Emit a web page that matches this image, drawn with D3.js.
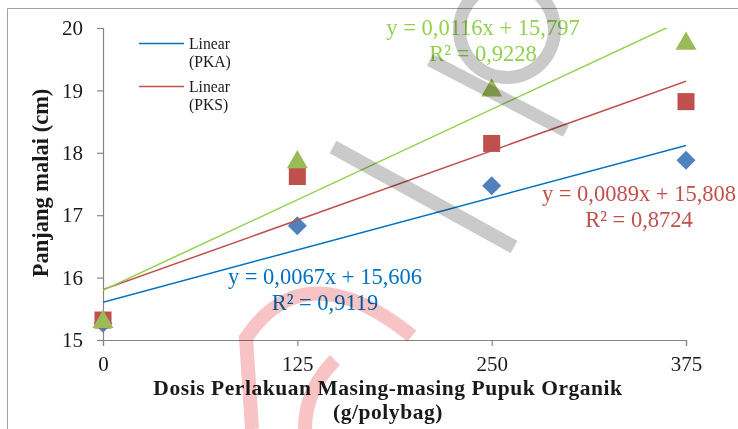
<!DOCTYPE html>
<html>
<head>
<meta charset="utf-8">
<script src="https://cdn.jsdelivr.net/npm/d3@7"></script>
<style>
  html, body { margin: 0; padding: 0; background: #fff; }
  svg { display: block; font-family: "Liberation Serif", "Times New Roman", serif; }
  .wm { mix-blend-mode: multiply; }
</style>
</head>
<body>
<svg id="chart" width="738" height="429"></svg>
<script>
// Dose levels (g/polybag) and mean panicle length (cm) per organic fertilizer
const doses = [0, 125, 250, 375];
const pka = [15.27, 16.83, 17.47, 17.88];
const pks = [15.32, 17.62, 18.15, 18.82];
const pkc = [15.29, 17.85, 19.00, 19.75];

// Linear trend lines: slope, intercept and R² for each series
const slopes = [0.0067, 0.0089, 0.0116];
const intercepts = [15.606, 15.808, 15.797];
const rSquared = [0.9119, 0.8724, 0.9228];

const xTicks = [0, 125, 250, 375];
const yTicks = [15, 16, 17, 18, 19, 20];
const legendNames = ["PKA", "PKS"];

const svg = d3.select("#chart");
const x = d3.scaleLinear().domain([0, 375]).range([103, 686]);
const y = d3.scaleLinear().domain([15, 20]).range([340, 28]);

const axisColor = "#868686";
const markColors = ["#4F81BD", "#C0504D", "#9BBB59"];
const lineColors = ["#0070C0", "#C0504D", "#92D050"];
const labelColors = ["#0070C0", "#C0504D", "#92D050"];

// chart frame
svg.append("path")
  .attr("d", "M7.5,429 L7.5,8.5 L738,8.5")
  .attr("fill", "none").attr("stroke", "#a0a0a0").attr("stroke-width", 1);

// y axis
const yAxis = svg.append("g").attr("transform", `translate(${x(0)},0)`)
  .call(d3.axisLeft(y).tickValues(yTicks).tickFormat(d3.format("d"))
    .tickSize(6).tickSizeOuter(6).tickPadding(14));
// x axis
const xAxis = svg.append("g").attr("transform", `translate(0,${y(15)})`)
  .call(d3.axisBottom(x).tickValues(xTicks).tickFormat(d3.format("d"))
    .tickSize(6).tickSizeOuter(6).tickPadding(10));
[yAxis, xAxis].forEach(g => {
  g.selectAll("path, line").attr("stroke", axisColor).attr("stroke-width", 1.2);
  g.selectAll("text").attr("fill", "#1a1a1a")
    .style("font-family", "'Liberation Serif', serif").style("font-size", "21px");
});

// markers
const series = [pka, pks, pkc];
const shapes = [d3.symbolDiamond2, d3.symbolSquare, d3.symbolTriangle];
const sizes = [230, 290, 190];
series.forEach((vals, i) => {
  svg.append("g").selectAll("path").data(vals).join("path")
    .attr("transform", (d, j) => `translate(${x(doses[j])},${y(d)})`)
    .attr("d", d3.symbol().type(shapes[i]).size(sizes[i]))
    .attr("fill", markColors[i]);
});

// trend lines, clipped to the plot area
svg.append("clipPath").attr("id", "plot")
  .append("rect").attr("x", x(0)).attr("y", y(20)).attr("width", x(375) - x(0)).attr("height", y(15) - y(20));
const trend = svg.append("g").attr("clip-path", "url(#plot)");
slopes.forEach((m, i) => {
  const pts = [0, 375].map(v => [x(v), y(intercepts[i] + m * v)]);
  trend.append("path").attr("d", d3.line()(pts))
    .attr("fill", "none").attr("stroke", lineColors[i]).attr("stroke-width", 1.5);
});

// trend equations
const comma = v => String(v).replace(".", ",");
const eqPos = [[325, 284], [639, 201], [483, 35]];
slopes.forEach((m, i) => {
  const t = svg.append("text").attr("text-anchor", "middle")
    .attr("fill", labelColors[i]).style("font-size", "22.5px");
  t.append("tspan").attr("x", eqPos[i][0]).attr("y", eqPos[i][1])
    .text(`y = ${comma(m.toFixed(4))}x + ${comma(intercepts[i].toFixed(3))}`);
  t.append("tspan").attr("x", eqPos[i][0]).attr("y", eqPos[i][1] + 26)
    .text(`R² = ${comma(rSquared[i].toFixed(4))}`);
});

// legend
legendNames.forEach((name, i) => {
  const ly = 43.5 + i * 43;
  svg.append("line").attr("x1", 139).attr("x2", 184).attr("y1", ly).attr("y2", ly)
    .attr("stroke", lineColors[i]).attr("stroke-width", 1.5);
  const t = svg.append("text").attr("fill", "#1a1a1a").style("font-size", "15.7px");
  t.append("tspan").attr("x", 189).attr("y", ly + 5.5).text("Linear");
  t.append("tspan").attr("x", 189).attr("y", ly + 23.5).text(`(${name})`);
});

// axis titles
svg.append("text")
  .attr("transform", "translate(48,183) rotate(-90)")
  .attr("text-anchor", "middle").attr("fill", "#1a1a1a")
  .style("font-weight", "bold").style("font-size", "22.5px")
  .text("Panjang malai (cm)");
const xt = svg.append("text").attr("text-anchor", "middle").attr("fill", "#1a1a1a")
  .style("font-weight", "bold").style("font-size", "21.5px").style("letter-spacing", "0.55px");
xt.append("tspan").attr("x", 388).attr("y", 395).text("Dosis Perlakuan Masing-masing Pupuk Organik");
xt.append("tspan").attr("x", 388).attr("y", 419).text("(g/polybag)");

// watermark strokes laid over the chart
const wm = svg.append("g").attr("class", "wm").attr("fill", "none");
wm.append("path")
  .attr("d", d3.arc()({ innerRadius: 41, outerRadius: 54, startAngle: 0, endAngle: 2 * Math.PI }))
  .attr("transform", "translate(507,30)")
  .attr("fill", "#cacaca");
wm.append("path").attr("d", "M430,60 L566,131").attr("stroke", "#cacaca").attr("stroke-width", 13);
wm.append("path").attr("d", "M333,147 L514,247").attr("stroke", "#cacaca").attr("stroke-width", 14);
wm.append("path").attr("d", "M412,336 Q305,250 246,338 L252,429").attr("stroke", "#f8c3c5").attr("stroke-width", 14);
wm.append("path").attr("d", "M335,360 Q305,390 305,429").attr("stroke", "#f8c3c5").attr("stroke-width", 14);
</script>
</body>
</html>
